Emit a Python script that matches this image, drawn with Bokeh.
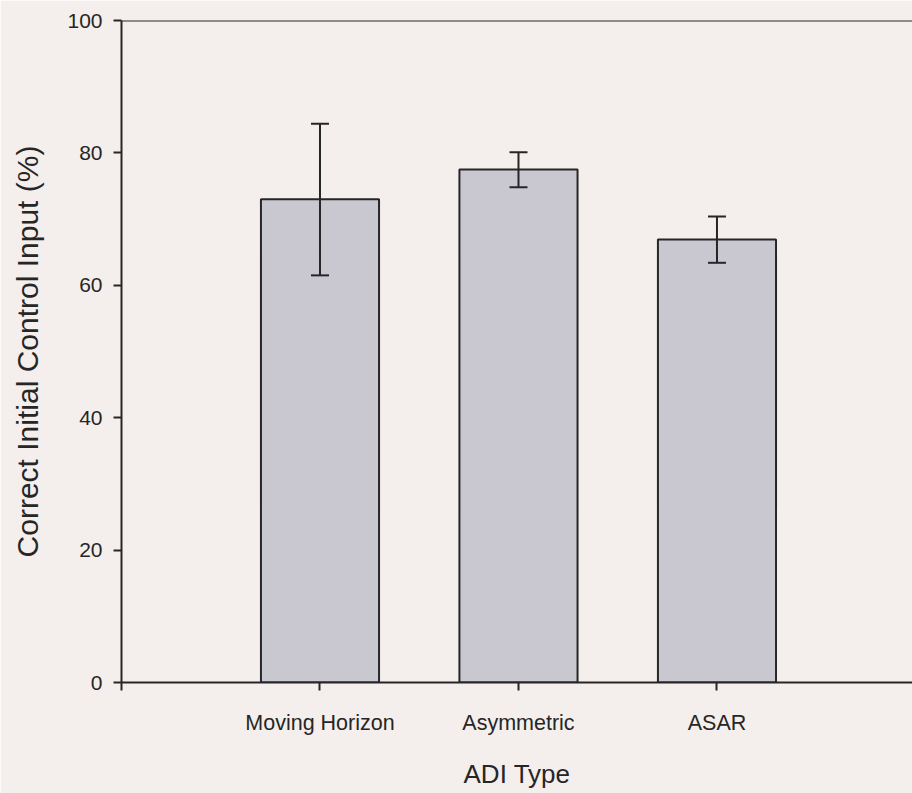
from bokeh.plotting import figure
from bokeh.models import ColumnDataSource, Whisker, FixedTicker, Span, Range1d, TeeHead
from bokeh.embed import file_html
from bokeh.resources import INLINE

categories = ["Moving Horizon", "Asymmetric", "ASAR"]
means = [73.0, 77.5, 66.9]
upper = [84.4, 80.1, 70.4]
lower = [61.5, 74.8, 63.4]
y_ticks = [0, 20, 40, 60, 80, 100]

BG = "#f4efec"
INK = "#262626"
FONT = "Liberation Sans"

positions = list(range(1, len(categories) + 1))
src = ColumnDataSource(dict(x=positions, top=means, upper=upper, lower=lower))

p = figure(width=912, height=793, output_backend="svg", toolbar_location=None,
           x_range=Range1d(0, 3.985), y_range=Range1d(0, 100),
           min_border_left=121, min_border_top=20, min_border_right=0,
           min_border_bottom=111)

p.background_fill_color = BG
p.border_fill_color = BG
p.outline_line_color = None
p.grid.grid_line_color = None

p.vbar(x="x", top="top", width=0.595, bottom=0, source=src,
       fill_color="#c9c8d1", line_color=INK, line_width=2)

w = Whisker(source=src, base="x", upper="upper", lower="lower",
            line_color=INK, line_width=2, level="overlay",
            upper_head=TeeHead(size=18, line_color=INK, line_width=2),
            lower_head=TeeHead(size=18, line_color=INK, line_width=2))
p.add_layout(w)

p.add_layout(Span(location=100, dimension="width", line_color=INK, line_width=2))

# x axis
p.xaxis.ticker = FixedTicker(ticks=[0] + positions)
p.xaxis.major_label_overrides = {0: ""} | {pos: c for pos, c in zip(positions, categories)}
p.xaxis.axis_label = "ADI Type"
p.xaxis.axis_line_width = 2
p.xaxis.axis_line_color = INK
p.xaxis.major_tick_line_color = INK
p.xaxis.major_tick_line_width = 2
p.xaxis.major_tick_out = 8
p.xaxis.major_tick_in = 0
p.xaxis.minor_tick_line_color = None
p.xaxis.major_label_text_font = FONT
p.xaxis.major_label_text_font_size = "21.5px"
p.xaxis.major_label_text_color = INK
p.xaxis.major_label_standoff = 20
p.xaxis.axis_label_text_font = FONT
p.xaxis.axis_label_text_font_size = "26px"
p.xaxis.axis_label_text_font_style = "normal"
p.xaxis.axis_label_text_color = INK
p.xaxis.axis_label_standoff = 21

# y axis
p.yaxis.ticker = FixedTicker(ticks=y_ticks)
p.yaxis.axis_label = "Correct Initial Control Input (%)"
p.yaxis.axis_line_width = 2
p.yaxis.axis_line_color = INK
p.yaxis.major_tick_line_color = INK
p.yaxis.major_tick_line_width = 2
p.yaxis.major_tick_out = 8
p.yaxis.major_tick_in = 0
p.yaxis.minor_tick_line_color = None
p.yaxis.major_label_text_font = FONT
p.yaxis.major_label_text_font_size = "21px"
p.yaxis.major_label_text_color = INK
p.yaxis.major_label_standoff = 11
p.yaxis.axis_label_text_font = FONT
p.yaxis.axis_label_text_font_size = "30px"
p.yaxis.axis_label_text_font_style = "normal"
p.yaxis.axis_label_text_color = INK
p.yaxis.axis_label_standoff = 20

html = file_html(p, INLINE)
open("out.html", "w").write(html)
